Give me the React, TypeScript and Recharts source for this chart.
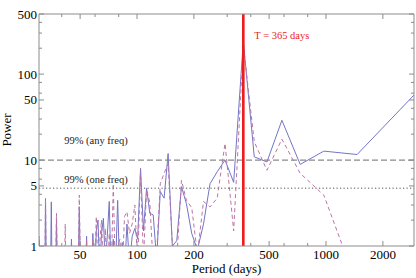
import { LineChart, Line, XAxis, YAxis, ReferenceLine } from 'recharts'

// periods (days) of the trial frequencies, longest first
const PERIODS = [
  2922, 1461, 974, 730.5, 584.4, 487, 417.4, 365.25, 324.7, 292.2,
  265.6, 243.5, 224.8, 208.7, 194.8, 182.6, 171.9, 162.3, 153.8, 146.1,
  139.1, 132.8, 127, 121.8, 116.9, 112.4, 108.2, 104.4, 100.8, 97.4,
  94.3, 91.3, 88.5, 85.9, 83.5, 81.2, 79, 76.9, 74.9, 73.1,
  71.3, 69.6, 68, 66.4, 64.9, 63.5, 62.2, 60.9, 59.6, 58.4,
  57.3, 56.2, 55.1, 54.1, 53.1, 52.2, 51.3, 50.4, 49.5, 48.7,
  47.9, 47.1, 46.4, 45.7, 45, 44.3, 43.6, 43, 42.3, 41.7,
  41.2, 40.6, 40, 39.5, 39, 38.4, 37.9, 37.5, 37, 36.5,
  36.1, 35.6, 35.2, 34.8, 34.4, 34, 33.6, 33.2, 32.8, 32.5,
  32.1, 31.8, 31.4, 31.1, 30.8, 30.4,
]

// solid blue curve
const POWER_SOLID = [
  57, 11.6, 12.7, 8.9, 29, 9.5, 10.9, 240, 5.5, 10,
  7.3, 5.3, 1.8, 0.9, 1.4, 3.1, 4.9, 1.15, 1.0, 11.9,
  3.6, 4.3, 0.7, 2.3, 2.4, 4.7, 1.5, 8, 1.2, 1.6,
  1.3, 0.6, 1.8, 0.5, 1.1, 0.4, 3.4, 0.5, 1.2, 0.4,
  3.3, 1.3, 0.6, 2.1, 1.4, 0.5, 2.0, 1.5, 0.4, 1.4,
  0.3, 0.5, 0.3, 1.3, 0.3, 0.3, 0.3, 0.3, 2.85, 0.3,
  0.3, 0.3, 0.3, 0.3, 1.2, 0.3, 0.3, 0.3, 0.3, 0.6,
  0.3, 0.3, 0.3, 0.3, 0.3, 0.3, 0.4, 2.1, 0.3, 0.3,
  0.3, 0.3, 3.26, 0.3, 0.3, 0.3, 0.3, 0.3, 3.57, 0.3,
  0.3, 0.3, 0.3, 0.3, 0.3, 1.2,
]

// dashed magenta curve
const POWER_DASHED = [
  0.2, 0.35, 3.9, 7.0, 17.5, 7.6, 16.3, 215, 1.5, 15.6,
  3.6, 2.85, 3.3, 0.8, 2.8, 3.4, 5.8, 0.7, 1.05, 9.1,
  7, 5.3, 0.8, 0.6, 3.2, 4.5, 0.7, 7.5, 0.6, 3.0,
  1.8, 1.4, 2.5, 2.2, 0.5, 1.2, 1.0, 0.4, 5.3, 0.5,
  1.4, 0.4, 1.6, 0.5, 2.0, 1.1, 0.5, 2.2, 0.4, 1.2,
  0.3, 0.4, 0.3, 1.2, 0.3, 0.3, 0.3, 0.3, 3.9, 0.3,
  0.3, 0.3, 0.3, 0.3, 0.4, 0.3, 0.3, 0.3, 0.3, 1.8,
  0.3, 0.3, 0.3, 0.3, 0.3, 0.3, 0.4, 2.4, 0.3, 0.3,
  0.3, 0.3, 0.4, 0.3, 0.3, 0.3, 0.3, 0.3, 3.5, 0.3,
  0.3, 0.3, 0.3, 0.3, 0.3, 1.3,
]

const X_TICKS = [40, 50, 60, 80, 100, 200, 300, 400, 500, 600, 800, 1000, 2000]
const X_LABELS = [50, 100, 200, 500, 1000, 2000]
const Y_TICKS = [1, 2, 3, 4, 5, 6, 8, 10, 20, 30, 40, 50, 60, 80, 100, 200, 300, 400, 500]
const Y_LABELS = [1, 5, 10, 50, 100, 500]

const PEAK_PERIOD = 365.25
const ANY_FREQ_LEVEL = 10
const ONE_FREQ_LEVEL = 4.7

const data = PERIODS.map((p, i) => ({ period: p, solid: POWER_SOLID[i], dashed: POWER_DASHED[i] }))

const SERIF = '"Liberation Serif", "DejaVu Serif", serif'
const FRAME = '#8c8c8c'

// ticks point inward, Mathematica style
function BottomTick({ x, y, payload }: any) {
  const major = X_LABELS.includes(payload.value)
  return (
    <g>
      <line x1={x} x2={x} y1={y} y2={y - (major ? 5 : 3)} stroke={FRAME} />
      {major && (
        <text x={x} y={y + 13} textAnchor="middle" fontSize={13} fontFamily={SERIF} fill="#000">
          {payload.value}
        </text>
      )}
    </g>
  )
}

function TopTick({ x, y, payload }: any) {
  const major = X_LABELS.includes(payload.value)
  return <line x1={x} x2={x} y1={y} y2={y + (major ? 5 : 3)} stroke={FRAME} />
}

function LeftTick({ x, y, payload }: any) {
  const major = Y_LABELS.includes(payload.value)
  return (
    <g>
      <line x1={x} x2={x + (major ? 5 : 3)} y1={y} y2={y} stroke={FRAME} />
      {major && (
        <text x={x - 2} y={y + 4.5} textAnchor="end" fontSize={13} fontFamily={SERIF} fill="#000">
          {payload.value}
        </text>
      )}
    </g>
  )
}

function RightTick({ x, y, payload }: any) {
  const major = Y_LABELS.includes(payload.value)
  return <line x1={x} x2={x - (major ? 5 : 3)} y1={y} y2={y} stroke={FRAME} />
}

function XTitle({ viewBox }: any) {
  return (
    <text x={viewBox.x + viewBox.width / 2} y={viewBox.y + 27} textAnchor="middle" fontSize={13} fontFamily={SERIF} fill="#000">
      Period (days)
    </text>
  )
}

function YTitle({ viewBox }: any) {
  const cy = viewBox.y + viewBox.height / 2
  return (
    <text x={11} y={cy} transform={`rotate(-90, 11, ${cy})`} textAnchor="middle" fontSize={13} fontFamily={SERIF} fill="#000">
      Power
    </text>
  )
}

function LineNote({ viewBox, text, dx, dy, fill = '#222', anchor = 'middle' }: any) {
  return (
    <text x={viewBox.x + dx} y={viewBox.y + dy} textAnchor={anchor} fontSize={10.5} fontFamily={SERIF} fill={fill}>
      {text}
    </text>
  )
}

export default function App() {
  return (
    <div style={{ position: 'absolute', left: 0, top: 0, background: '#fff' }}>
      <LineChart width={416} height={278} data={data} margin={{ top: 0, right: 0, bottom: 0, left: 0 }}>
        <XAxis
          dataKey="period"
          type="number"
          scale="log"
          domain={[30.3, 2922]}
          allowDataOverflow
          ticks={X_TICKS}
          interval={0}
          height={32}
          tickSize={0}
          tickMargin={0}
          tickLine={false}
          tick={<BottomTick />}
          axisLine={{ stroke: FRAME }}
          label={<XTitle />}
        />
        <XAxis
          xAxisId="top"
          orientation="top"
          dataKey="period"
          type="number"
          scale="log"
          domain={[30.3, 2922]}
          allowDataOverflow
          ticks={X_TICKS}
          interval={0}
          height={14}
          tickSize={0}
          tickMargin={0}
          tickLine={false}
          tick={<TopTick />}
          axisLine={{ stroke: FRAME }}
        />
        <YAxis
          type="number"
          scale="log"
          domain={[1, 500]}
          allowDataOverflow
          ticks={Y_TICKS}
          interval={0}
          width={39}
          tickSize={0}
          tickMargin={0}
          tickLine={false}
          tick={<LeftTick />}
          axisLine={{ stroke: FRAME }}
          label={<YTitle />}
        />
        <YAxis
          yAxisId="right"
          orientation="right"
          type="number"
          scale="log"
          domain={[1, 500]}
          allowDataOverflow
          ticks={Y_TICKS}
          interval={0}
          width={2}
          tickSize={0}
          tickMargin={0}
          tickLine={false}
          tick={<RightTick />}
          axisLine={{ stroke: FRAME }}
        />
        <Line
          dataKey="solid"
          type="linear"
          stroke="#7474c8"
          strokeWidth={1}
          dot={false}
          isAnimationActive={false}
        />
        <Line
          dataKey="dashed"
          type="linear"
          stroke="#bd74a4"
          strokeWidth={1}
          strokeDasharray="4 3"
          dot={false}
          isAnimationActive={false}
        />
        <ReferenceLine
          y={ANY_FREQ_LEVEL}
          stroke="#8a8a8a"
          strokeWidth={1.3}
          strokeDasharray="6 3"
          label={<LineNote text="99% (any freq)" dx={57} dy={-16} />}
        />
        <ReferenceLine
          y={ONE_FREQ_LEVEL}
          stroke="#8a8a8a"
          strokeWidth={1.3}
          strokeDasharray="1.2 2.3"
          label={<LineNote text="99% (one freq)" dx={57} dy={-5} />}
        />
        <ReferenceLine
          x={PEAK_PERIOD}
          stroke="#ee1c1c"
          strokeWidth={2.6}
          label={<LineNote text="T = 365 days" dx={11} dy={25} fill="#ee1c1c" anchor="start" />}
        />
      </LineChart>
    </div>
  )
}
